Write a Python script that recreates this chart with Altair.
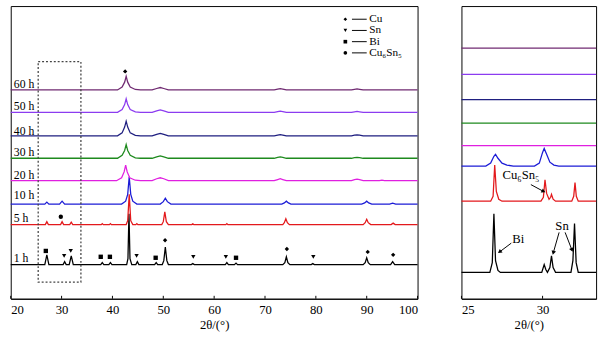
import altair as alt
import pandas as pd

FONT = "Liberation Serif"

series_names = ["1 h", "5 h", "10 h", "20 h", "30 h", "40 h", "50 h", "60 h"]
series_colors = ["#000000", "#e3191c", "#1c1cd6", "#e020e0", "#1e8a1e", "#1f1f80", "#8c3cf0", "#702a72"]

# stacking offsets (arbitrary intensity units)
left_offsets = [35, 76, 97, 121, 144, 167, 191, 214]
right_offsets = [27, 100, 136, 157, 180, 204, 230, 257]

# ---- full-range patterns (2theta, relative intensity) ----
L_1h = [(20, 0), (26.7, 0), (27.1, 10), (27.5, 0), (30.3, 0), (30.6, 3), (30.9, 0), (31.5, 0), (31.9, 9), (32.3, 0),
        (37.7, 0), (38.0, 2), (38.3, 0), (39.3, 0), (39.6, 2), (39.9, 0), (42.8, 0), (43.05, 6), (43.25, 52), (43.45, 6),
        (43.8, 0), (44.6, 0), (44.9, 3), (45.2, 0), (48.3, 0), (48.6, 2), (48.9, 0), (49.8, 0), (50.1, 4), (50.4, 18),
        (50.7, 4), (51.0, 0), (55.5, 0), (55.8, 1), (56.1, 0), (62.2, 0), (62.5, 2), (62.8, 0), (64.0, 0), (64.3, 1.5),
        (64.6, 0), (73.5, 0), (73.9, 2), (74.2, 8), (74.5, 2), (74.9, 0), (79.1, 0), (79.4, 1), (79.7, 0), (89.3, 0),
        (89.7, 2), (90.0, 7), (90.3, 2), (90.7, 0), (94.7, 0), (95.1, 3), (95.5, 0), (100, 0)]
L_5h = [(20, 0), (26.8, 0), (27.1, 3), (27.4, 0), (29.8, 0), (30.1, 3), (30.4, 0), (31.6, 0), (31.9, 2.5), (32.2, 0),
        (37.8, 0), (38.0, 1), (38.2, 0), (39.4, 0), (39.6, 1), (39.8, 0), (42.7, 0), (43.0, 4), (43.3, 31), (43.6, 4),
        (44.0, 0), (44.6, 0), (44.8, 1), (45.0, 0), (49.7, 0), (50.0, 3), (50.3, 13), (50.6, 3), (51.0, 0), (55.6, 0),
        (55.8, 0.8), (56.0, 0), (62.3, 0), (62.5, 1), (62.7, 0), (73.5, 0), (73.8, 2), (74.1, 6), (74.4, 2), (74.8, 0),
        (89.3, 0), (89.7, 2), (90.0, 5.5), (90.3, 2), (90.8, 0), (94.8, 0), (95.2, 1.5), (95.6, 0), (100, 0)]
L_10h = [(20, 0), (26.7, 0), (27.1, 2), (27.5, 0), (29.6, 0), (30.1, 3), (30.6, 0), (41.8, 0), (42.6, 3), (43.0, 10),
         (43.3, 28), (43.6, 10), (44.0, 3), (44.8, 0), (49.4, 0), (50.0, 2.5), (50.4, 6), (50.8, 2.5), (51.5, 0),
         (73.3, 0), (73.8, 1.2), (74.2, 3), (74.6, 1.2), (75.1, 0), (89.0, 0), (89.6, 1.2), (90.0, 3), (90.4, 1.2),
         (91.0, 0), (94.5, 0), (95.1, 1), (95.7, 0), (100, 0)]
L_20h = [(20, 0), (40.8, 0), (41.8, 3), (42.3, 9), (42.6, 16), (42.9, 9), (43.4, 3), (44.5, 0.5), (45.5, 0),
         (47.8, 0), (48.7, 2), (49.4, 3), (50.1, 2), (51, 0), (71.8, 0), (72.5, 1.2), (73, 2), (73.5, 1.2), (74.2, 0),
         (87, 0), (87.6, 1), (88.1, 1.5), (88.6, 1), (89.3, 0), (92.5, 0), (93, 0.6), (93.5, 0), (100, 0)]
L_30h = [(20, 0), (41.0, 0), (41.9, 3), (42.4, 8), (42.7, 14), (43.0, 8), (43.5, 3), (44.5, 0.5), (45.5, 0),
         (47.8, 0), (48.7, 1.5), (49.4, 2.5), (50.1, 1.5), (51, 0), (71.8, 0), (72.5, 0.8), (73, 1.3), (73.5, 0.8),
         (74.2, 0), (87, 0), (87.6, 0.6), (88.1, 1), (88.6, 0.6), (89.3, 0), (100, 0)]
L_40h = [(20, 0), (41.0, 0), (41.9, 3), (42.4, 9), (42.7, 15), (43.0, 9), (43.5, 3), (44.5, 0.5), (45.5, 0),
         (47.8, 0), (48.7, 1.5), (49.4, 2.5), (50.1, 1.5), (51, 0), (71.8, 0), (72.5, 0.8), (73, 1.3), (73.5, 0.8),
         (74.2, 0), (87, 0), (87.6, 0.6), (88.1, 1), (88.6, 0.6), (89.3, 0), (100, 0)]
L_50h = [(20, 0), (41.0, 0), (41.9, 3), (42.4, 8), (42.7, 14), (43.0, 8), (43.5, 3), (44.5, 0.5), (45.5, 0),
         (47.8, 0), (48.7, 1.5), (49.4, 2.5), (50.1, 1.5), (51, 0), (71.8, 0), (72.5, 0.8), (73, 1.3), (73.5, 0.8),
         (74.2, 0), (87, 0), (87.6, 0.6), (88.1, 1), (88.6, 0.6), (89.3, 0), (100, 0)]
L_60h = [(20, 0), (41.0, 0), (41.9, 3), (42.4, 8), (42.7, 14), (43.0, 8), (43.5, 3), (44.5, 0.5), (45.5, 0),
         (47.8, 0), (48.7, 1.5), (49.4, 2.5), (50.1, 1.5), (51, 0), (71.8, 0), (72.5, 0.8), (73, 1.3), (73.5, 0.8),
         (74.2, 0), (87, 0), (87.6, 0.6), (88.1, 1), (88.6, 0.6), (89.3, 0), (100, 0)]
left_patterns = [L_1h, L_5h, L_10h, L_20h, L_30h, L_40h, L_50h, L_60h]

# ---- zoomed patterns 25-33.3 ----
R_1h = [(25, 0), (26.75, 0), (26.9, 10), (27.0, 60), (27.1, 12), (27.25, 2), (27.4, 0), (29.95, 0), (30.1, 8),
        (30.2, 3), (30.3, 0), (30.45, 5), (30.55, 17), (30.65, 5), (30.8, 0), (31.75, 0), (31.87, 12), (31.97, 50),
        (32.07, 10), (32.2, 0), (33.3, 0)]
R_5h = [(25, 0), (26.8, 0), (26.95, 5), (27.05, 37), (27.15, 10), (27.3, 2), (27.5, 0), (29.9, 0), (30.05, 4),
        (30.15, 22), (30.25, 8), (30.4, 2), (30.5, 4), (30.55, 7), (30.65, 2), (30.8, 0), (31.8, 0), (31.92, 5),
        (32.0, 19), (32.08, 5), (32.2, 0), (33.3, 0)]
R_10h = [(25, 0), (26.5, 0), (26.8, 3), (27.0, 10), (27.1, 12), (27.25, 8), (27.5, 3), (27.8, 1), (28.2, 0),
         (29.5, 0), (29.8, 3), (30.0, 14), (30.1, 18), (30.25, 12), (30.45, 4), (30.7, 1), (31.0, 0), (33.3, 0)]
R_flat = [(25, 0), (33.3, 0)]
right_patterns = [R_1h, R_5h, R_10h, R_flat, R_flat, R_flat, R_flat, R_flat]

# ---- phase markers (2theta, stacked intensity) ----
cu_marks = [(50.35, 60), (74.3, 51), (90.2, 48), (95.2, 45), (42.5, 233)]
sn_marks = [(30.5, 44), (31.8, 49), (44.75, 44), (55.9, 43), (62.3, 43), (79.5, 43)]
bi_marks = [(26.9, 49), (37.7, 43), (39.5, 43), (48.5, 42), (64.3, 42)]
cu6sn5_marks = [(29.85, 84)]

legend_labels = ["Cu", "Sn", "Bi", "Cu₆Sn₅"]
legend_shapes = ["diamond", "triangle-down", "square", "circle"]
legend_rows = [286.5, 275, 263.5, 252]

left_ticks = [20, 30, 40, 50, 60, 70, 80, 90, 100]
right_ticks = [25, 30]

# annotation arrows in the zoomed panel: start (x, y), end (x2, y2), head angle
arrow_x = [28.07, 31.02, 31.39, 29.28]
arrow_y = [57, 68, 68, 117]
arrow_x2 = [27.35, 30.66, 31.81, 30.06]
arrow_y2 = [48, 47, 50, 110]
arrow_angle = [233, 196, 159, 118]


def build(patterns, offsets):
    rows = []
    for name, pat, off in zip(series_names, patterns, offsets):
        for x, y in pat:
            rows.append({"series": name, "x": x, "y": y + off})
    return pd.DataFrame(rows)


dfL = build(left_patterns, left_offsets)
dfR = build(right_patterns, right_offsets)

color_scale = alt.Scale(domain=series_names, range=series_colors)


def xaxis(vals):
    return alt.Axis(values=vals, ticks=False, grid=False, domainColor="black", domainWidth=1,
                    labelFont=FONT, labelFontSize=13, labelColor="black", labelPadding=5,
                    title="2θ/(°)", titleFont=FONT, titleFontSize=13, titleFontWeight="normal",
                    titleColor="black", titlePadding=3)


def tick_layer(vals):
    d = pd.DataFrame({"x": vals, "y0": [0] * len(vals), "y1": [3] * len(vals)})
    return alt.Chart(d).mark_rule(color="black", strokeWidth=1).encode(
        x="x:Q", y="y0:Q", y2="y1:Q")


def marks(pts, shape, size=20):
    d = pd.DataFrame(pts, columns=["x", "y"])
    return alt.Chart(d).mark_point(shape=shape, filled=True, color="black", size=size, opacity=1).encode(
        x="x:Q", y="y:Q")


# ---------------- left panel ----------------
linesL = alt.Chart(dfL).mark_line(strokeWidth=1.3).encode(
    x=alt.X("x:Q", scale=alt.Scale(domain=[20, 100], nice=False, zero=False), axis=xaxis(left_ticks)),
    y=alt.Y("y:Q", scale=alt.Scale(domain=[0, 300], nice=False, zero=False), axis=None),
    color=alt.Color("series:N", scale=color_scale, legend=None),
)

label_df = pd.DataFrame({"t": series_names, "x": [20.6] * 8,
                         "y": [42, 83, 106, 127, 150, 172, 197, 220]})
labelsL = alt.Chart(label_df).mark_text(font=FONT, fontSize=12, align="left", baseline="middle",
                                        color="black").encode(x="x:Q", y="y:Q", text="t:N")

box = alt.Chart(pd.DataFrame({"x": [25.4], "x2": [33.8], "y": [17], "y2": [243]})).mark_rect(
    fillOpacity=0, stroke="#444444", strokeDash=[2, 2], strokeWidth=1.3).encode(
    x="x:Q", x2="x2:Q", y="y:Q", y2="y2:Q")

leg_df = pd.DataFrame({"t": legend_labels, "y": legend_rows,
                       "l1": [87.1] * 4, "l2": [90.0] * 4, "tx": [90.5] * 4})
leg_pts = [marks([(85.8, r)], s, 14) for r, s in zip(legend_rows, legend_shapes)]
leg_lines = alt.Chart(leg_df).mark_rule(color="black", strokeWidth=1).encode(x="l1:Q", x2="l2:Q", y="y:Q")
leg_text = alt.Chart(leg_df).mark_text(font=FONT, fontSize=11.5, align="left", baseline="middle",
                                       color="black").encode(x="tx:Q", y="y:Q", text="t:N")

left = alt.layer(
    linesL, box, tick_layer(left_ticks), labelsL,
    marks(cu_marks, "diamond"), marks(sn_marks, "triangle-down"), marks(bi_marks, "square"),
    marks(cu6sn5_marks, "circle"), *leg_pts, leg_lines, leg_text
).properties(width=417, height=300)

# ---------------- right panel ----------------
linesR = alt.Chart(dfR).mark_line(strokeWidth=1.3).encode(
    x=alt.X("x:Q", scale=alt.Scale(domain=[25, 33.3], nice=False, zero=False), axis=xaxis(right_ticks)),
    y=alt.Y("y:Q", scale=alt.Scale(domain=[0, 300], nice=False, zero=False), axis=None),
    color=alt.Color("series:N", scale=color_scale, legend=None),
)

ann_text = pd.DataFrame({"t": ["Bi", "Sn", "Cu₆Sn₅"], "x": [28.5, 31.2, 28.67], "y": [61, 74, 127]})
annT = alt.Chart(ann_text).mark_text(font=FONT, fontSize=13, align="center", baseline="middle",
                                     color="black").encode(x="x:Q", y="y:Q", text="t:N")

arrows = pd.DataFrame({"x": arrow_x, "y": arrow_y, "x2": arrow_x2, "y2": arrow_y2})
arrL = alt.Chart(arrows).mark_rule(color="black", strokeWidth=1).encode(
    x="x:Q", y="y:Q", x2="x2:Q", y2="y2:Q")
heads = [
    alt.Chart(pd.DataFrame({"x": [ex], "y": [ey]})).mark_point(
        shape="triangle-up", filled=True, color="black", size=22, opacity=1, angle=ang
    ).encode(x="x:Q", y="y:Q")
    for ex, ey, ang in zip(arrow_x2, arrow_y2, arrow_angle)
]

right = alt.layer(linesR, tick_layer(right_ticks), annT, arrL, *heads).properties(width=138, height=300)

chart = alt.hconcat(left, right, spacing=37).properties(
    padding={"left": 7, "top": 1, "right": 0, "bottom": 0},
).configure_view(stroke="black", strokeWidth=1)

chart.save("out.html", embed_options={"renderer": "svg", "actions": False})
